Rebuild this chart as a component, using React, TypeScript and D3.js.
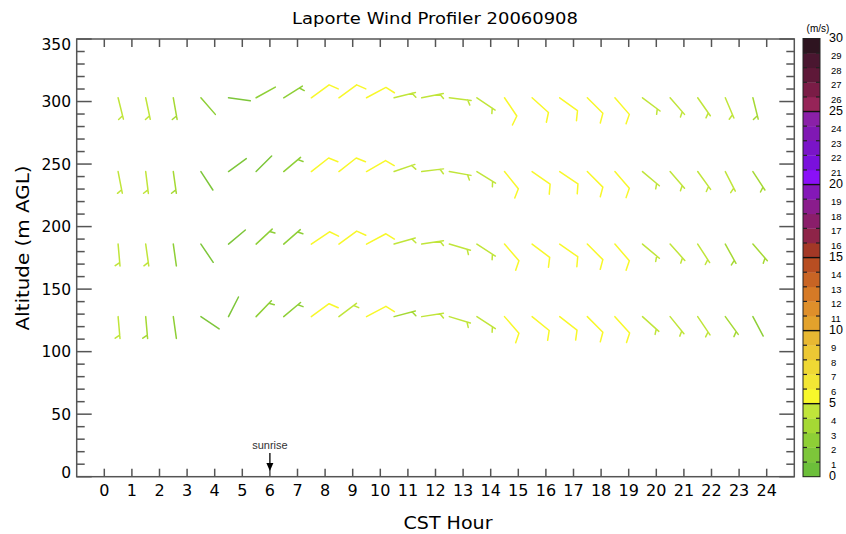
import React from "react";
import * as d3 from "d3";

// ---- data ----
const hours = [0.5, 1.5, 2.5, 3.5, 4.5, 5.5, 6.5, 7.5, 8.5, 9.5, 10.5, 11.5, 12.5, 13.5, 14.5, 15.5, 16.5, 17.5, 18.5, 19.5, 20.5, 21.5, 22.5, 23.5];
const altitudes = [303, 244, 186, 128];

// wind direction (deg, from) per gate
const dir303 = [166, 168, 170, 139, 98, 61, 58, 54, 54, 62, 76, 79, 97, 124, 146, 132, 126, 135, 139, 127, 139, 145, 157, 166];
const dir244 = [169, 173, 172, 147, 54, 45, 50, 52, 52, 60, 71, 83, 100, 122, 141, 125, 124, 135, 139, 130, 139, 144, 153, 147];
const dir186 = [175, 172, 172, 146, 50, 47, 49, 56, 54, 62, 74, 81, 106, 123, 139, 127, 125, 135, 139, 130, 138, 147, 151, 139];
const dir128 = [175, 175, 172, 124, 27, 44, 50, 54, 53, 62, 75, 81, 107, 123, 139, 129, 128, 135, 138, 132, 141, 146, 144, 152];

// wind speed (m/s) per gate
const spd303 = [4.5, 4.3, 3.6, 2.0, 1.8, 2.1, 2.8, 5.6, 5.7, 5.6, 4.2, 4.0, 4.3, 4.1, 5.9, 5.8, 5.7, 5.5, 5.4, 4.6, 4.4, 4.2, 4.0, 3.0];
const spd244 = [4.4, 4.2, 3.8, 1.9, 1.6, 1.8, 2.7, 5.5, 5.6, 5.5, 4.0, 4.0, 4.2, 4.3, 5.8, 5.7, 5.6, 5.5, 5.4, 4.5, 4.4, 4.2, 4.0, 3.5];
const spd186 = [4.2, 4.0, 2.4, 1.8, 1.7, 2.6, 2.8, 5.4, 5.5, 5.5, 4.0, 4.1, 4.3, 4.3, 5.8, 5.7, 5.6, 5.5, 5.3, 4.6, 4.3, 4.1, 3.8, 3.2];
const spd128 = [4.0, 3.8, 2.3, 1.8, 1.2, 2.6, 2.9, 5.3, 4.8, 5.4, 3.9, 4.0, 4.2, 4.2, 5.7, 5.6, 5.6, 5.4, 5.2, 4.5, 4.3, 4.0, 3.6, 2.2];

const xTicks = [0, 1, 2, 3, 4, 5, 6, 7, 8, 9, 10, 11, 12, 13, 14, 15, 16, 17, 18, 19, 20, 21, 22, 23, 24];
const yTicks = [0, 50, 100, 150, 200, 250, 300, 350];
const yMinor = [0, 10, 20, 30, 40, 50, 60, 70, 80, 90, 100, 110, 120, 130, 140, 150, 160, 170, 180, 190, 200, 210, 220, 230, 240, 250, 260, 270, 280, 290, 300, 310, 320, 330, 340, 350];
const cbLabels = [0, 1, 2, 3, 4, 5, 6, 7, 8, 9, 10, 11, 12, 13, 14, 15, 16, 17, 18, 19, 20, 21, 22, 23, 24, 25, 26, 27, 28, 29, 30];
const cbColors = [
  "#6cbf3a", "#7dc63a", "#8ecf36", "#a5d934", "#c0e53a",
  "#f8f82a", "#f2e634", "#efd834", "#ecc834", "#e8b832",
  "#e3a22c", "#df8f2a", "#d67a26", "#c86424", "#b84e22",
  "#a33826", "#8e2448", "#8a1e6a", "#8a1c8c", "#8418b8",
  "#8a10f8", "#7a10dc", "#7a14c8", "#8018b4", "#8a20a8",
  "#962458", "#7a1c46", "#5e1838", "#4a1630", "#2e1420",
];
const sunriseHour = 6;

const rows = [
  { alt: altitudes[0], dir: dir303, spd: spd303 },
  { alt: altitudes[1], dir: dir244, spd: spd244 },
  { alt: altitudes[2], dir: dir186, spd: spd186 },
  { alt: altitudes[3], dir: dir128, spd: spd128 },
];

// ---- layout ----
const W = 846, H = 534;
const L = 76.7, R = 794.3, T = 39, B = 476.7;
const AX = "#555";
const FONT = "'DejaVu Sans', 'Liberation Sans', Arial, sans-serif";
const SANS = "'Liberation Sans', Arial, sans-serif";

function barbPath(sx: number, sy: number, dir: number, spd: number) {
  const len = 22;
  const rad = (dir * Math.PI) / 180;
  const ux = Math.sin(rad), uy = -Math.cos(rad);
  const ex = sx + len * ux, ey = sy + len * uy;
  const a = Math.atan2(uy, ux) + (60 * Math.PI) / 180;
  const fx = Math.cos(a), fy = Math.sin(a);
  const n = Math.floor(spd / 2.5);
  const full = Math.floor(n / 2), half = n % 2;
  let d = `M${sx},${sy}L${ex},${ey}`;
  const sp = 3.5;
  for (let i = 0; i < full; i++) {
    const px = ex - i * sp * ux, py = ey - i * sp * uy;
    d += `M${px},${py}L${px + 10 * fx},${py + 10 * fy}`;
  }
  if (half) {
    const off = full === 0 ? 3.5 : full * sp;
    const px = ex - off * ux, py = ey - off * uy;
    d += `M${px},${py}L${px + 5.5 * fx},${py + 5.5 * fy}`;
  }
  return d;
}

export default function App() {
  const x = d3.scaleLinear().domain([-1, 25]).range([L, R]);
  const y = d3.scaleLinear().domain([0, 350]).range([B, T]);
  const cb = d3.scaleLinear().domain([0, 30]).range([B, 38.5]);
  const color = (s: number) => cbColors[Math.max(0, Math.min(29, Math.floor(s)))];
  const cbX0 = 803, cbX1 = 820;

  return (
    <svg width={W} height={H} viewBox={`0 0 ${W} ${H}`} style={{ position: "absolute", left: 0, top: 0, background: "#fff" }}>
      <rect x={0} y={0} width={W} height={H} fill="#fff" />
      {/* title */}
      <text x={435} y={24} textAnchor="middle" fontFamily={FONT} fontSize={15} textLength={286} lengthAdjust="spacingAndGlyphs" fill="#000">
        Laporte Wind Profiler 20060908
      </text>

      {/* barbs */}
      <g fill="none" strokeWidth={1.5} strokeLinecap="round" strokeLinejoin="round">
        {rows.map((r, ri) =>
          hours.map((h, i) => (
            <path key={`${ri}-${i}`} d={barbPath(x(h), y(r.alt), r.dir[i], r.spd[i])} stroke={color(r.spd[i])} />
          ))
        )}
      </g>

      {/* frame */}
      <rect x={L} y={T} width={R - L} height={B - T} fill="none" stroke={AX} strokeWidth={1.5} />
      {/* y ticks */}
      {yMinor.map((v) => {
        const len = v % 50 === 0 ? 15 : 8;
        return (
          <g key={`y${v}`} stroke={AX} strokeWidth={1.5}>
            <line x1={L} x2={L + len} y1={y(v)} y2={y(v)} />
            <line x1={R} x2={R - len} y1={y(v)} y2={y(v)} />
          </g>
        );
      })}
      {/* x ticks */}
      {xTicks.map((v) => (
        <g key={`x${v}`} stroke={AX} strokeWidth={1.5}>
          <line x1={x(v)} x2={x(v)} y1={B} y2={B - 8} />
          <line x1={x(v)} x2={x(v)} y1={T} y2={T + 8} />
        </g>
      ))}
      {/* y labels */}
      {yTicks.map((v) => (
        <text key={`yl${v}`} x={71} y={y(v) + (v === 350 ? 5 : v === 0 ? -4 : 0)} dy="0.36em" textAnchor="end" fontFamily={FONT} fontSize={15.5} fill="#000">
          {v}
        </text>
      ))}
      {/* x labels */}
      {xTicks.map((v) => (
        <text key={`xl${v}`} x={x(v)} y={496} textAnchor="middle" fontFamily={FONT} fontSize={16} fill="#000">
          {v}
        </text>
      ))}
      {/* axis titles */}
      <text x={448} y={529} textAnchor="middle" fontFamily={FONT} fontSize={18} textLength={89} lengthAdjust="spacingAndGlyphs" fill="#000">
        CST Hour
      </text>
      <text transform={`translate(29,248) rotate(-90)`} textAnchor="middle" fontFamily={FONT} fontSize={18} textLength={165} lengthAdjust="spacingAndGlyphs" fill="#000">
        Altitude (m AGL)
      </text>

      {/* sunrise annotation */}
      <text x={x(sunriseHour)} y={449} textAnchor="middle" fontFamily={SANS} fontSize={11} fill="#333">
        sunrise
      </text>
      <line x1={x(sunriseHour)} x2={x(sunriseHour)} y1={453} y2={464} stroke="#000" strokeWidth={1.3} />
      <path d={`M${x(sunriseHour) - 3.5},${463}L${x(sunriseHour) + 3.5},${463}L${x(sunriseHour)},${471}Z`} fill="#000" />

      {/* colorbar */}
      {cbColors.map((c, i) => (
        <rect key={`cb${i}`} x={cbX0} y={cb(i + 1)} width={cbX1 - cbX0} height={cb(i) - cb(i + 1) + 0.3} fill={c} />
      ))}
      <rect x={cbX0} y={cb(30)} width={cbX1 - cbX0} height={cb(0) - cb(30)} fill="none" stroke="#222" strokeWidth={1} />
      {cbLabels.map((v) =>
        v % 5 === 0 ? (
          v > 0 && v < 30 ? (
            <line key={`cbt${v}`} x1={cbX0} x2={cbX1} y1={cb(v)} y2={cb(v)} stroke="#111" strokeWidth={1.4} />
          ) : null
        ) : (
          <g key={`cbt${v}`} stroke="#222" strokeWidth={1.2}>
            <line x1={cbX0} x2={cbX0 + 4} y1={cb(v)} y2={cb(v)} />
            <line x1={cbX1} x2={cbX1 - 4} y1={cb(v)} y2={cb(v)} />
          </g>
        )
      )}
      {cbLabels.map((v) => (
        <text key={`cbl${v}`} x={v % 5 === 0 ? 829 : 831} y={cb(v) + (v % 5 === 0 ? -1 : 2.5)} dy="0.36em" fontFamily={SANS} fontSize={v % 5 === 0 ? 12.5 : 9.5} fill="#000">
          {v}
        </text>
      ))}
      <text x={818} y={32} textAnchor="middle" fontFamily={SANS} fontSize={10} fill="#000">
        (m/s)
      </text>
    </svg>
  );
}
